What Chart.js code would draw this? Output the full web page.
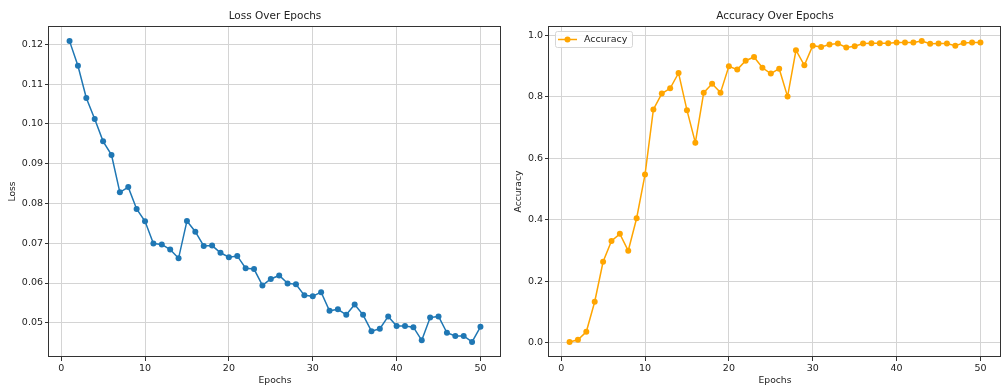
<!DOCTYPE html>
<html><head><meta charset="utf-8">
<script src="https://cdn.jsdelivr.net/npm/chart.js@4.4.1/dist/chart.umd.min.js"></script>
<style>
html,body{margin:0;padding:0;background:#fff;overflow:hidden;width:1003px;height:385px;position:relative;}
canvas{position:absolute;top:0;}
#c1{left:0;}
#c2{left:505px;}
</style></head><body>
<canvas id="c1" width="505" height="385"></canvas>
<canvas id="c2" width="500" height="385"></canvas>
<script>
const epochs = [1,2,3,4,5,6,7,8,9,10,11,12,13,14,15,16,17,18,19,20,21,22,23,24,25,26,27,28,29,30,31,32,33,34,35,36,37,38,39,40,41,42,43,44,45,46,47,48,49,50];
const lossValues = [0.1208,0.1146,0.1065,0.1012,0.0956,0.0922,0.0828,0.0841,0.0786,0.0755,
  0.0699,0.0697,0.0684,0.0662,0.0756,0.0729,0.0693,0.0694,0.0676,0.0665,
  0.0668,0.0637,0.0635,0.0594,0.0610,0.0619,0.0599,0.0597,0.0569,0.0567,
  0.0577,0.0530,0.0534,0.0520,0.0546,0.0520,0.0479,0.0485,0.0516,0.0492,
  0.0492,0.0489,0.0456,0.0513,0.0516,0.0475,0.0467,0.0467,0.0452,0.0490];
const accuracyValues = [0.002,0.009,0.035,0.133,0.263,0.331,0.354,0.299,0.405,0.547,
  0.759,0.811,0.828,0.878,0.757,0.651,0.814,0.843,0.814,0.900,
  0.889,0.918,0.930,0.895,0.876,0.892,0.801,0.952,0.903,0.967,
  0.963,0.971,0.974,0.961,0.965,0.974,0.975,0.975,0.975,0.977,
  0.977,0.977,0.982,0.973,0.974,0.974,0.967,0.976,0.977,0.977];
const epochTicks = [0,10,20,30,40,50];
const lossTicks = [0.05,0.06,0.07,0.08,0.09,0.10,0.11,0.12];
const accuracyTicks = [0.0,0.2,0.4,0.6,0.8,1.0];
const epochRange = [-1.45, 52.45];
const lossRange = [0.0414, 0.1246];
const accuracyRange = [-0.047, 1.031];

const F = "'DejaVu Sans', sans-serif";
const TXT = '#222';

const framePlugin = {
  id: 'frame',
  afterDraw(chart) {
    const a = chart.chartArea, ctx = chart.ctx;
    ctx.save();
    ctx.strokeStyle = '#333';
    ctx.lineWidth = 1;
    ctx.strokeRect(Math.round(a.left) - 0.5, Math.round(a.top) + 0.5, Math.round(a.right) - Math.round(a.left), Math.round(a.bottom) - Math.round(a.top) - 1);
    ctx.restore();
  }
};

const legendPlugin = {
  id: 'mplLegend',
  afterDraw(chart, args, opts) {
    if (!opts || !opts.show) return;
    const a = chart.chartArea, ctx = chart.ctx;
    const x = a.left + 6, y = a.top + 5, w = 77, h = 16;
    ctx.save();
    ctx.fillStyle = 'rgba(255,255,255,0.85)';
    ctx.strokeStyle = '#d6d6d6';
    ctx.lineWidth = 1;
    ctx.beginPath();
    if (ctx.roundRect) ctx.roundRect(x + 0.5, y + 0.5, w, h, 2); else ctx.rect(x + 0.5, y + 0.5, w, h);
    ctx.fill(); ctx.stroke();
    const cy = y + 8.5;
    ctx.strokeStyle = opts.color; ctx.lineWidth = 1.5;
    ctx.beginPath(); ctx.moveTo(x + 3, cy); ctx.lineTo(x + 22, cy); ctx.stroke();
    ctx.fillStyle = opts.color;
    ctx.beginPath(); ctx.arc(x + 12.5, cy, 3, 0, Math.PI * 2); ctx.fill();
    ctx.fillStyle = TXT;
    ctx.font = '9.5px ' + F;
    ctx.textBaseline = 'middle';
    ctx.textAlign = 'left';
    ctx.fillText(opts.label, x + 29, cy);
    ctx.restore();
  }
};

function makeChart(id, cfg) {
  const pts = epochs.map((e, i) => ({x: e, y: cfg.values[i]}));
  return new Chart(document.getElementById(id), {
    type: 'line',
    data: { datasets: [{
      label: cfg.label, data: pts,
      borderColor: cfg.color, backgroundColor: cfg.color,
      borderWidth: 1.5, pointRadius: 3, pointBorderWidth: 0,
      pointBackgroundColor: cfg.color, tension: 0, fill: false
    }]},
    options: {
      responsive: false, animation: false, events: [],
      layout: { padding: 0 },
      plugins: {
        legend: { display: false },
        tooltip: { enabled: false },
        title: { display: true, text: cfg.title, color: TXT, fullSize: false,
          font: { family: F, size: 10.5, weight: 'normal', lineHeight: 1.2 },
          padding: { top: 9.7, bottom: 3.7 } },
        mplLegend: cfg.legend
      },
      scales: {
        x: {
          type: 'linear', min: epochRange[0], max: epochRange[1],
          afterBuildTicks: s => { s.ticks = epochTicks.map(v => ({value: v})); },
          afterFit: s => { s.height = 28; },
          grid: { color: '#d4d4d4', lineWidth: 1, tickLength: 4, tickColor: '#333', drawTicks: true },
          border: { display: false },
          ticks: { color: TXT, font: { family: F, size: 9.5 }, padding: 1.5, maxRotation: 0, autoSkip: false,
            callback: v => String(v) },
          title: { display: true, text: 'Epochs', color: TXT,
            font: { family: F, size: 9.2, lineHeight: 1 }, padding: { top: 0, bottom: 0 } }
        },
        y: {
          type: 'linear', min: cfg.range[0], max: cfg.range[1],
          afterBuildTicks: s => { s.ticks = cfg.ticks.map(v => ({value: v})); },
          afterFit: s => { s.width = cfg.yw; },
          grid: { color: '#d4d4d4', lineWidth: 1, tickLength: 4, tickColor: '#333', drawTicks: true },
          border: { display: false },
          ticks: { color: TXT, font: { family: F, size: 9.5 }, padding: 2, autoSkip: false,
            callback: v => Number(v).toFixed(cfg.dec) },
          title: { display: true, text: cfg.ytitle, color: TXT,
            font: { family: F, size: 9.2, lineHeight: 1.2 }, padding: { top: cfg.ytp, bottom: 0 } }
        }
      }
    },
    plugins: [framePlugin, legendPlugin]
  });
}

makeChart('c1', { values: lossValues, label: 'Loss', color: '#1f77b4', title: 'Loss Over Epochs',
  ytitle: 'Loss', ticks: lossTicks, range: lossRange, dec: 2, yw: 49, ytp: 7, legend: { show: false } });
makeChart('c2', { values: accuracyValues, label: 'Accuracy', color: '#ffa500', title: 'Accuracy Over Epochs',
  ytitle: 'Accuracy', ticks: accuracyTicks, range: accuracyRange, dec: 1, yw: 44, ytp: 8.5,
  legend: { show: true, color: '#ffa500', label: 'Accuracy' } });
</script>
</body></html>
